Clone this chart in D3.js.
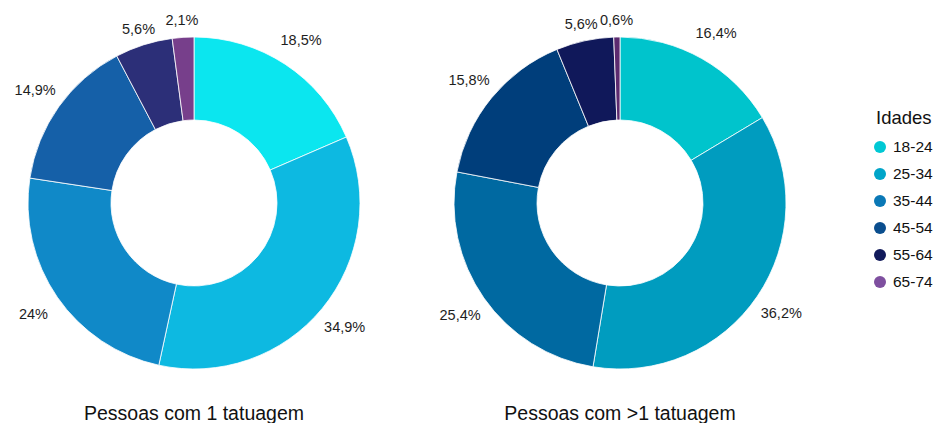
<!DOCTYPE html>
<html lang="pt">
<head>
<meta charset="utf-8">
<title>Idades - tatuagens</title>
<script src="https://cdn.jsdelivr.net/npm/d3@7"></script>
<style>
  body { margin: 0; background: #fff; }
  svg { display: block; font-family: "Liberation Sans", Arial, sans-serif; }
</style>
</head>
<body>
<svg id="chart" width="938" height="423"></svg>
<script>
// data
var ages = ["18-24", "25-34", "35-44", "45-54", "55-64", "65-74"];
var oneTattoo = [18.5, 34.9, 24, 14.9, 5.6, 2.1];
var moreTattoos = [16.4, 36.2, 25.4, 15.8, 5.6, 0.6];
var titles = ["Pessoas com 1 tatuagem", "Pessoas com >1 tatuagem"];

// the left chart uses a lighter palette than the legend
var colorsLeft = ["#0be6ef", "#0db9e1", "#1089c8", "#1560a8", "#2c2f78", "#773f8b"];
var colorsRight = ["#00c4cc", "#009cbf", "#0069a1", "#003e7b", "#10185a", "#5c2a6f"];
var colorsLegend = ["#00c8d4", "#00a5c9", "#0a78b6", "#0a4e8e", "#111a5b", "#7e4f9f"];

var svg = d3.select("#chart");

var pie = d3.pie().sort(null).value(function(d) { return d; });
var outerR = 166, innerR = 83;
var arc = d3.arc().innerRadius(innerR).outerRadius(outerR);
// small slices get their labels pulled in a bit
var labelArc = d3.arc()
  .innerRadius(function(d) { return d.value < 10 ? 183 : 195; })
  .outerRadius(function(d) { return d.value < 10 ? 183 : 195; });

function fmt(v) { return String(v).replace(".", ",") + "%"; }

function drawDonut(values, colors, cx, title) {
  var g = svg.append("g").attr("transform", "translate(" + cx + ",203)");
  var color = d3.scaleOrdinal().domain(ages).range(colors);
  var arcs = pie(values);

  g.selectAll("path.slice")
    .data(arcs)
    .enter().append("path")
    .attr("class", "slice")
    .attr("d", arc)
    .attr("fill", function(d, i) { return color(ages[i]); })
    .attr("stroke", "#fff")
    .attr("stroke-width", 0.8);

  g.selectAll("text.lbl")
    .data(arcs)
    .enter().append("text")
    .attr("class", "lbl")
    .attr("transform", function(d) { return "translate(" + labelArc.centroid(d) + ")"; })
    .attr("text-anchor", "middle")
    .attr("dy", "0.35em")
    .attr("font-size", 14.5)
    .attr("fill", "#1e1e1e")
    .text(function(d) { return fmt(d.value); });

  svg.append("text")
    .attr("x", cx)
    .attr("y", 420)
    .attr("text-anchor", "middle")
    .attr("font-size", 19.5)
    .attr("fill", "#111")
    .text(title);
}

drawDonut(oneTattoo, colorsLeft, 194, titles[0]);
drawDonut(moreTattoos, colorsRight, 620, titles[1]);

// legend
var legend = svg.append("g").attr("transform", "translate(876,0)");
legend.append("text")
  .attr("x", 0).attr("y", 124)
  .attr("font-size", 18.5)
  .attr("fill", "#111")
  .text("Idades");

var legendY = d3.scalePoint().domain(ages).range([147, 282]);

var item = legend.selectAll("g.item")
  .data(ages)
  .enter().append("g")
  .attr("class", "item")
  .attr("transform", function(d) { return "translate(0," + legendY(d) + ")"; });

item.append("circle")
  .attr("cx", 4).attr("cy", 0).attr("r", 6)
  .attr("fill", function(d, i) { return colorsLegend[i]; });

item.append("text")
  .attr("x", 17).attr("dy", "0.35em")
  .attr("font-size", 15.5)
  .attr("fill", "#111")
  .text(function(d) { return d; });
</script>
</body>
</html>
